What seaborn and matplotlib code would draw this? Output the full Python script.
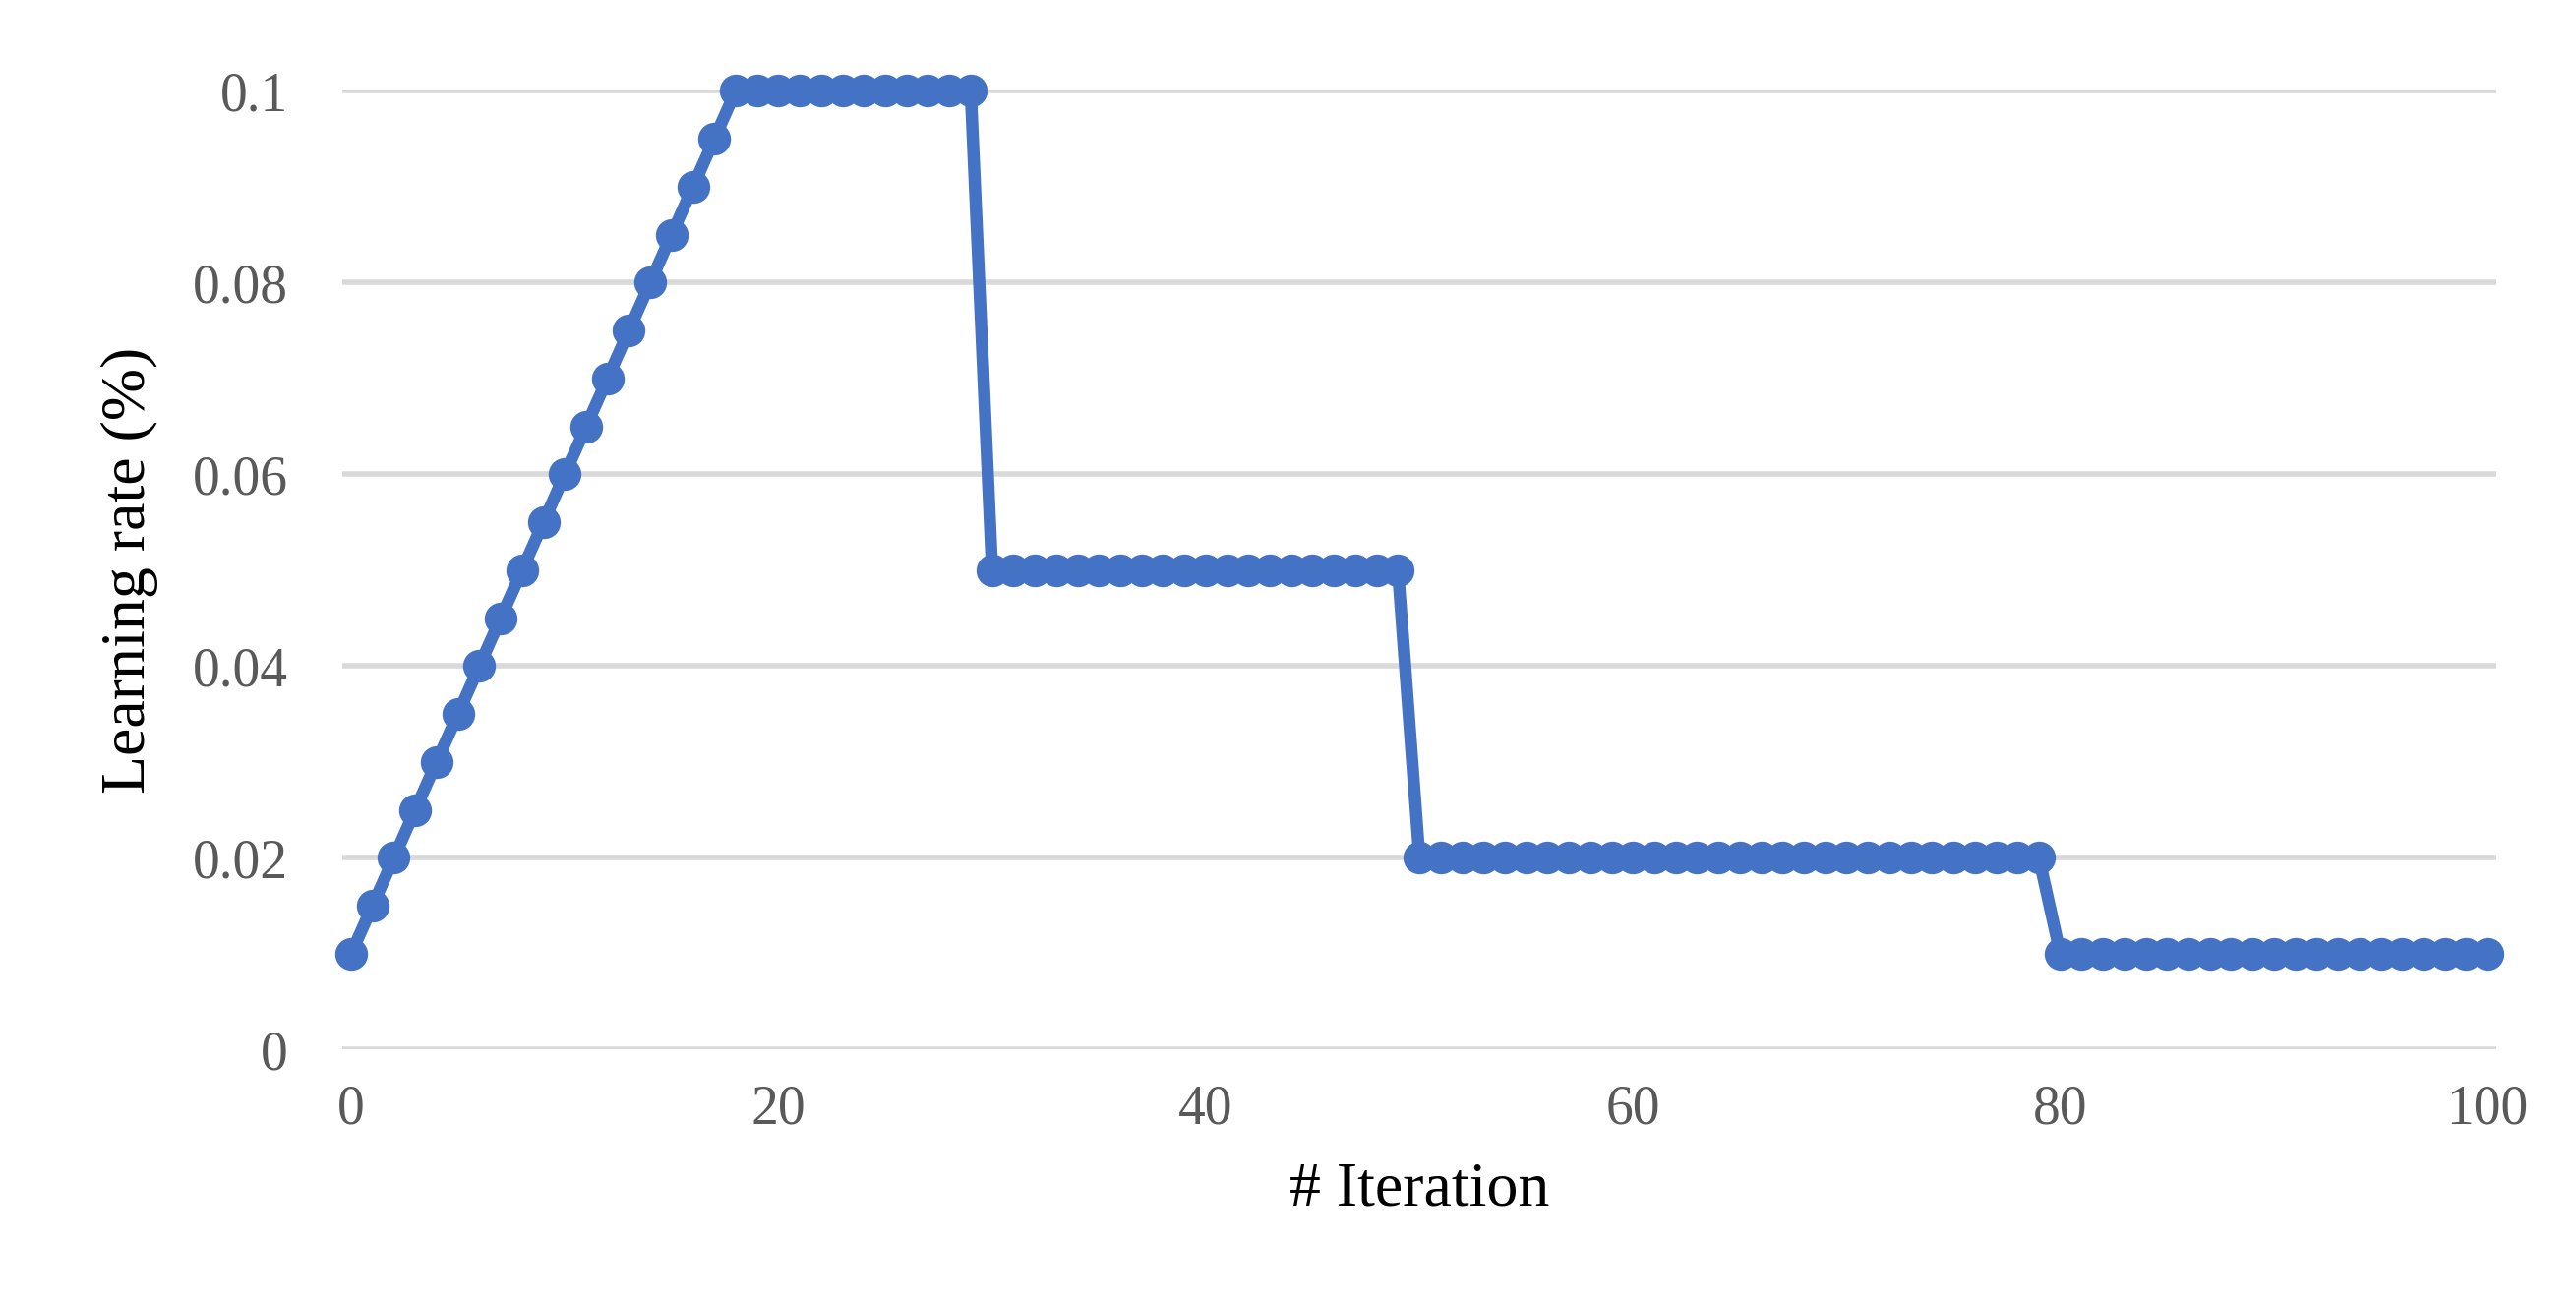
import matplotlib
matplotlib.use("Agg")
import matplotlib.pyplot as plt
import seaborn as sns
import pandas as pd

iterations = list(range(0, 101))
warmup = [0.01, 0.015, 0.02, 0.025, 0.03, 0.035, 0.04, 0.045, 0.05, 0.055,
          0.06, 0.065, 0.07, 0.075, 0.08, 0.085, 0.09, 0.095]
stage1 = [0.1] * 12
stage2 = [0.05] * 20
stage3 = [0.02] * 30
stage4 = [0.01] * 21
learning_rate = warmup + stage1 + stage2 + stage3 + stage4

df = pd.DataFrame({"iter": iterations, "lr": learning_rate})

sns.set_theme(style="white")
plt.rcParams['font.family'] = ['Liberation Serif', 'DejaVu Serif']

fig = plt.figure(figsize=(26.19, 13.21), dpi=100)
ax = fig.add_axes([0.133, 0.192, 0.836, 0.738])
sns.lineplot(data=df, x="iter", y="lr", ax=ax, color="#4472C4", linewidth=9,
             marker="o", markersize=24, markeredgewidth=0, zorder=3)
ax.set_xlim(-0.4, 100.4)
ax.set_ylim(0, 0.1)
ax.set_yticks([0, 0.02, 0.04, 0.06, 0.08, 0.1])
ax.set_yticklabels(["0", "0.02", "0.04", "0.06", "0.08", "0.1"])
ax.set_xticks([0, 20, 40, 60, 80, 100])
ax.yaxis.grid(True, color="#D9D9D9", linewidth=4)
ax.set_axisbelow(True)
for s in ax.spines.values():
    s.set_visible(False)
ax.tick_params(axis='both', length=0, labelsize=40, labelcolor="#595959", pad=25)
ax.tick_params(axis='y', pad=40)
ax.set_xlabel("# Iteration", fontsize=46, color="black", labelpad=20)
ax.set_ylabel("Learning rate (%)", fontsize=46, color="black", labelpad=25)
ax.margins(y=0)
ax.set_clip_on(False)
for ln in ax.lines:
    ln.set_clip_on(False)
fig.savefig("out.png", dpi=100)
